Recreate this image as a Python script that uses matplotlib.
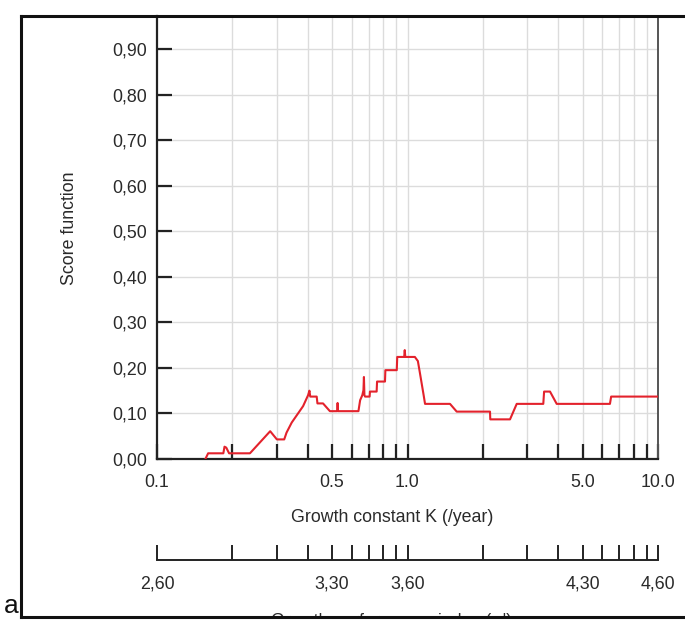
import numpy as np
import matplotlib
matplotlib.use('Agg')
import matplotlib.pyplot as plt
from matplotlib.ticker import FixedLocator, NullLocator
from matplotlib.lines import Line2D
from matplotlib.transforms import Bbox, TransformedBbox

plt.rcParams['font.family'] = ['Liberation Sans', 'DejaVu Sans']

# score function vs growth constant K
K_vals = [0.156, 0.160, 0.184, 0.186, 0.189, 0.194, 0.235, 0.283, 0.301, 0.322,
          0.329, 0.345, 0.383, 0.401, 0.406, 0.409, 0.434, 0.437, 0.460, 0.490,
          0.524, 0.526, 0.528, 0.637, 0.647, 0.660, 0.667, 0.670, 0.673, 0.677,
          0.706, 0.708, 0.753, 0.756, 0.813, 0.816, 0.906, 0.910, 0.970, 0.975,
          0.980, 1.07, 1.10, 1.12, 1.16, 1.175, 1.478, 1.572, 2.135, 2.14,
          2.566, 2.729, 3.484, 3.51, 3.706, 3.941, 6.43, 6.50, 10.0]
score = [0.0, 0.0125, 0.0125, 0.027, 0.025, 0.0125, 0.0125, 0.061, 0.043, 0.043,
         0.058, 0.080, 0.116, 0.140, 0.150, 0.137, 0.137, 0.122, 0.122, 0.105,
         0.105, 0.123, 0.105, 0.105, 0.129, 0.140, 0.151, 0.180, 0.140, 0.137,
         0.137, 0.148, 0.148, 0.170, 0.170, 0.195, 0.195, 0.224, 0.224, 0.239,
         0.224, 0.224, 0.215, 0.190, 0.140, 0.121, 0.121, 0.104, 0.104, 0.087,
         0.087, 0.121, 0.121, 0.148, 0.148, 0.121, 0.121, 0.137, 0.137]

y_ticks = [0.0, 0.1, 0.2, 0.3, 0.4, 0.5, 0.6, 0.7, 0.8, 0.9]
k_ticks = [0.1, 0.2, 0.3, 0.4, 0.5, 0.6, 0.7, 0.8, 0.9,
           1.0, 2.0, 3.0, 4.0, 5.0, 6.0, 7.0, 8.0, 9.0, 10.0]
k_labels = {0.1: '0.1', 0.5: '0.5', 1.0: '1.0', 5.0: '5.0', 10.0: '10.0'}
phi_labels = {0.1: '2,60', 0.5: '3,30', 1.0: '3,60', 5.0: '4,30', 10.0: '4,60'}

W, H = 685, 620
fig = plt.figure(figsize=(W / 100, H / 100), dpi=100)

def fx(px):
    return px / W

def fy(py):
    return 1 - py / H

txt = '#2a2a2a'
fs = 12.8

# main plot
ax = fig.add_axes([fx(157), fy(459), fx(658) - fx(157), fy(16) - fy(459)])
ax.set_xscale('log')
ax.set_xlim(0.1, 10)
ax.set_ylim(0, (459 - 16) / 455.6)
ax.plot(K_vals, score, color='#e3222c', lw=1.5, zorder=3)

ax.xaxis.set_major_locator(FixedLocator(k_ticks))
ax.xaxis.set_minor_locator(NullLocator())
ax.set_xticklabels([k_labels.get(k, '') for k in k_ticks])
ax.set_yticks(y_ticks)
ax.set_yticklabels([('%.2f' % v).replace('.', ',') for v in y_ticks])
ax.tick_params(axis='both', direction='in', length=11, width=1.6, color='#222222',
               labelsize=fs, labelcolor=txt)
ax.tick_params(axis='x', pad=10.5)
ax.tick_params(axis='y', pad=7)

for k in k_ticks[1:-1]:
    ax.axvline(k, color='#dcdcdc', lw=1, zorder=1)
for v in y_ticks[1:]:
    ax.axhline(v, color='#dcdcdc', lw=1, zorder=1)

for s in ['left', 'bottom']:
    ax.spines[s].set_linewidth(1.6)
    ax.spines[s].set_color('#222222')
ax.spines['right'].set_color('#555555')
ax.spines['right'].set_linewidth(1.4)
ax.spines['top'].set_visible(False)

# growth performance index axis
ax2 = fig.add_axes([fx(157), fy(560), fx(658) - fx(157), 0.02])
ax2.set_xscale('log')
ax2.set_xlim(0.1, 10)
ax2.set_ylim(0, 1)
ax2.patch.set_visible(False)
for s in ['left', 'right', 'top']:
    ax2.spines[s].set_visible(False)
ax2.spines['bottom'].set_linewidth(1.4)
ax2.spines['bottom'].set_color('#222222')
ax2.set_yticks([])
ax2.xaxis.set_major_locator(FixedLocator(k_ticks))
ax2.xaxis.set_minor_locator(NullLocator())
ax2.set_xticklabels([phi_labels.get(k, '') for k in k_ticks])
ax2.tick_params(axis='x', direction='in', length=11, width=1.4, color='#222222',
                labelsize=fs, labelcolor=txt, pad=11)

fig.text(fx(392), fy(518), 'Growth constant K (/year)', ha='center', va='center',
         fontsize=fs, color=txt)
fig.text(fx(70), fy(228), 'Score function', ha='center', va='center',
         rotation=90, fontsize=fs, color=txt)
t = fig.text(fx(392), fy(622), "Growth performance index (\u03c6')", ha='center',
             va='center', fontsize=fs, color=txt)
t.set_clip_box(TransformedBbox(Bbox([[0, fy(616)], [1, 1]]), fig.transFigure))
t.set_clip_on(True)

fig.text(fx(11), fy(606), 'a', ha='center', va='center', fontsize=19, color='#111111')

# outer frame (open on the right)
frame_kw = dict(color='#111111', lw=2.2, transform=fig.transFigure)
fig.add_artist(Line2D([fx(21), 1.0], [fy(16), fy(16)], **frame_kw))
fig.add_artist(Line2D([fx(21), fx(21)], [fy(16), fy(617)], **frame_kw))
fig.add_artist(Line2D([fx(21), 1.0], [fy(617), fy(617)], **frame_kw))

fig.savefig('out.png', dpi=100)
